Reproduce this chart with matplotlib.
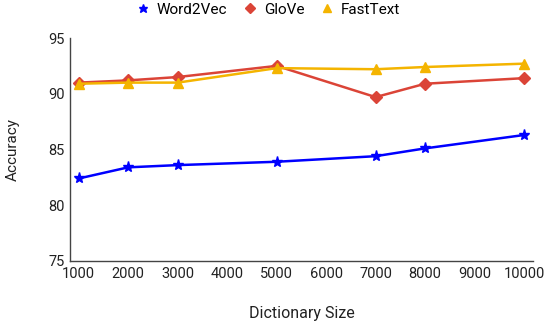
import matplotlib
matplotlib.use("Agg")
import matplotlib.pyplot as plt

plt.rcParams['font.family'] = ['Roboto', 'DejaVu Sans']

dict_size = [1000, 2000, 3000, 5000, 7000, 8000, 10000]
word2vec = [82.4, 83.4, 83.6, 83.9, 84.4, 85.1, 86.3]
glove = [91.0, 91.2, 91.5, 92.5, 89.7, 90.9, 91.4]
fasttext = [90.9, 91.0, 91.0, 92.3, 92.2, 92.4, 92.7]
xticks = [1000, 2000, 3000, 4000, 5000, 6000, 7000, 8000, 9000, 10000]
yticks = [75, 80, 85, 90, 95]

fig = plt.figure(figsize=(5.5, 3.25), dpi=100)
ax = fig.add_axes([0.127, 0.197, 0.842, 0.686])

ax.plot(dict_size, word2vec, color='#0000ff', marker='*', markersize=8,
        linewidth=1.8, label='Word2Vec')
ax.plot(dict_size, glove, color='#db4437', marker='D', markersize=6,
        linewidth=1.8, label='GloVe')
ax.plot(dict_size, fasttext, color='#f4b400', marker='^', markersize=7,
        linewidth=1.8, label='FastText')

ax.set_xlim(820, 10180)
ax.set_ylim(75, 95)
ax.set_xticks(xticks)
ax.set_yticks(yticks)
ax.tick_params(length=0, labelsize=10.5, colors='#222222', pad=4)
for s in ['top', 'right']:
    ax.spines[s].set_visible(False)
for s in ['left', 'bottom']:
    ax.spines[s].set_color('#444444')
    ax.spines[s].set_linewidth(1)

ax.set_xlabel('Dictionary Size', fontsize=11.5, color='#222222', labelpad=18)
ax.set_ylabel('Accuracy', fontsize=11, color='#222222', labelpad=20)

leg = ax.legend(loc='upper center', bbox_to_anchor=(0.487, 1.025),
                bbox_transform=fig.transFigure, ncol=3, frameon=False,
                fontsize=11, handlelength=1, handletextpad=0.4,
                columnspacing=1.0, borderpad=0.2, markerscale=0.8)
for line in leg.get_lines():
    line.set_linestyle('none')

fig.savefig('out.png', dpi=100)
